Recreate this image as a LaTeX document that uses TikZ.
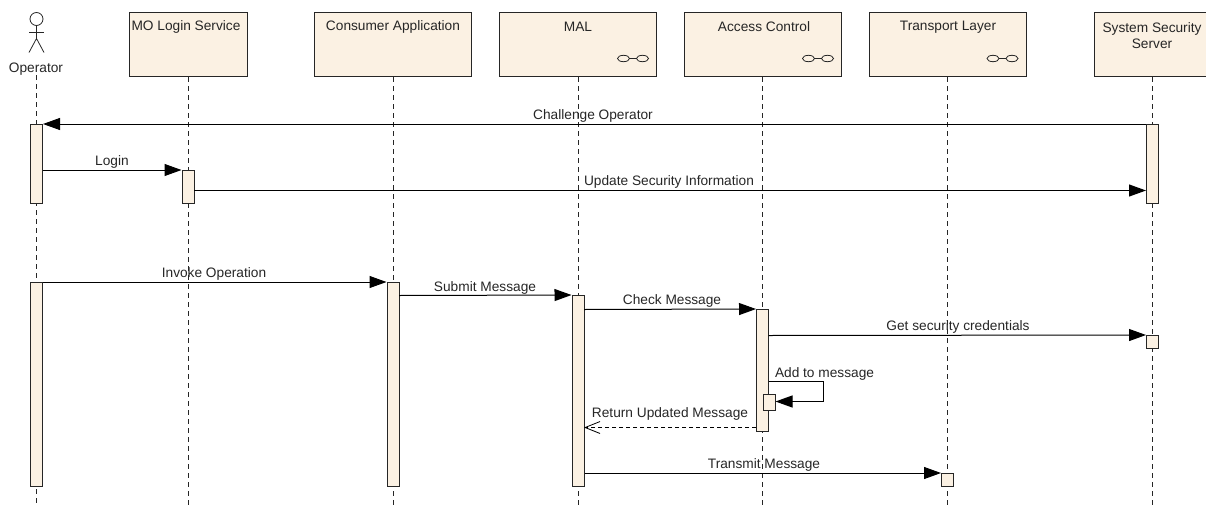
\documentclass[tikz,border=0pt]{standalone}
\usepackage{fontspec}
\setmainfont{Liberation Sans}
\usetikzlibrary{arrows.meta}
\definecolor{boxfill}{HTML}{FBF1E3}
\tikzset{
  lifebox/.style={draw=black!85, fill=boxfill, line width=1pt, minimum height=64pt, inner sep=0pt},
  boxtext/.style={font=\fontsize{13.7}{15.5}\selectfont, align=center, inner sep=0pt, text=black!85},
  msgtext/.style={font=\fontsize{13.7}{15.5}\selectfont, inner sep=0pt, text=black!85, xshift=1pt},
  lifeline/.style={draw=black!85, line width=1pt, dash pattern=on 5pt off 4pt},
  activebar/.style={draw=black!85, fill=boxfill, line width=1pt, minimum width=12pt, inner sep=0pt},
  msg/.style={draw=black, line width=1pt, -{Triangle[length=17pt,width=12pt]}},
  msgback/.style={draw=black, line width=1pt, dash pattern=on 4pt off 3pt, -{Straight Barb[length=15pt,width=12pt,line width=0.8pt]}},
  rings/.pic={
    \draw[line width=0.8pt, draw=black!85] (-9.5,0) ellipse (6pt and 3.2pt);
    \draw[line width=0.8pt, draw=black!85] (9.5,0) ellipse (6pt and 3.2pt);
    \draw[line width=0.8pt, draw=black!85] (-3.5,0) -- (3.5,0);
  }
}

\begin{document}
\begin{tikzpicture}[x=1pt,y=-1pt]
  \useasboundingbox (0,-0.5) rectangle (1206,505.5);

  % Operator actor
  \node[draw=black!85, circle, line width=0.8pt, minimum size=13pt, inner sep=0pt] (head) at (36.5,18.5) {};
  \coordinate (hip) at (36.5,38);
  \coordinate (armL) at (29,32);
  \coordinate (armR) at (44,32);
  \coordinate (legL) at (29,52);
  \coordinate (legR) at (44,52);
  \draw[line width=0.8pt, draw=black!85] (head) -- (hip);
  \draw[line width=0.8pt, draw=black!85] (armL) -- (armR);
  \draw[line width=0.8pt, draw=black!85] (legL) -- (hip) -- (legR);
  \node[boxtext] (operator) at (36,68.5) {Operator};

  % Lifeline boxes
  \node[lifebox, minimum width=118pt] (login) at (188,44) {};
  \node[boxtext] (logintext) at (186,26.5) {MO Login Service};
  \node[lifebox, minimum width=157pt] (consumer) at (393,44) {};
  \node[boxtext] (consumertext) at (393,26.5) {Consumer Application};
  \node[lifebox, minimum width=157pt] (mal) at (578,44) {};
  \node[boxtext] (maltext) at (578,26.5) {MAL};
  \node[lifebox, minimum width=157pt] (access) at (762.5,44) {};
  \node[boxtext] (accesstext) at (764,26.5) {Access Control};
  \node[lifebox, minimum width=157pt] (transport) at (947.5,44) {};
  \node[boxtext] (transporttext) at (948,26.5) {Transport Layer};
  \node[lifebox, minimum width=118pt] (security) at (1153,44) {};
  \node[boxtext] (securitytext) at (1152,35) {System Security\\Server};

  % Interface rings
  \pic at (633,58) {rings};
  \pic at (818,58) {rings};
  \pic at (1002.5,58) {rings};

  % Lifelines
  \coordinate (operatorEnd) at (36.5,506);
  \coordinate (loginEnd) at (188,506);
  \coordinate (consumerEnd) at (393,506);
  \coordinate (malEnd) at (578,506);
  \coordinate (accessEnd) at (762.5,506);
  \coordinate (transportEnd) at (947.5,506);
  \coordinate (securityEnd) at (1152.5,506);
  \draw[lifeline] (operator.south -| operatorEnd) -- (operatorEnd);
  \draw[lifeline] (login.south) -- (loginEnd);
  \draw[lifeline] (consumer.south) -- (consumerEnd);
  \draw[lifeline] (mal.south) -- (malEnd);
  \draw[lifeline] (access.south) -- (accessEnd);
  \draw[lifeline] (transport.south) -- (transportEnd);
  \draw[lifeline] (security.south -| securityEnd) -- (securityEnd);

  % Activation bars
  \node[activebar, minimum height=79pt] (opbarA) at (36.5,163.5) {};
  \node[activebar, minimum height=33pt] (loginbar) at (188,186.5) {};
  \node[activebar, minimum height=79pt] (secbarA) at (1152.5,163.5) {};
  \node[activebar, minimum height=204pt] (opbarB) at (36.5,384) {};
  \node[activebar, minimum height=204pt] (consumerbar) at (393,384) {};
  \node[activebar, minimum height=191pt] (malbar) at (578,390.5) {};
  \node[activebar, minimum height=122pt] (accessbar) at (762.5,370) {};
  \node[activebar, minimum height=16pt] (selfbar) at (769,402) {};
  \node[activebar, minimum height=13pt] (secbarB) at (1152.5,341.5) {};
  \node[activebar, minimum height=13pt] (transportbar) at (947.5,479.5) {};

  % Messages
  \draw[msg] (secbarA.north west) -- (opbarA.north east);
  \node[msgtext] (challenge) at (592,115) {Challenge Operator};

  \draw[msg] (opbarA.east |- loginbar.north) -- (loginbar.north west);
  \node[msgtext] (logintxt) at (111,161.5) {Login};

  \coordinate (updateStart) at (194,190);
  \draw[msg] (updateStart) -- (secbarA.west |- updateStart);
  \node[msgtext] (update) at (668,181) {Update Security Information};

  \draw[msg] (opbarB.north east) -- (consumerbar.north west);
  \node[msgtext] (invoke) at (213,273) {Invoke Operation};

  \coordinate (submitStart) at (399,295);
  \draw[msg] (submitStart) -- (malbar.north west);
  \node[msgtext] (submit) at (484,287) {Submit Message};

  \coordinate (checkStart) at (584,309);
  \draw[msg] (checkStart) -- (accessbar.north west);
  \node[msgtext] (check) at (671,300.5) {Check Message};

  \coordinate (getStart) at (768.5,335);
  \draw[msg] (getStart) -- (secbarB.north west);
  \node[msgtext] (getcred) at (957,326.5) {Get security credentials};

  \coordinate (selfStart) at (768.5,381);
  \coordinate (selfCornerA) at (823,381);
  \coordinate (selfCornerB) at (823,401);
  \draw[msg] (selfStart) -- (selfCornerA) -- (selfCornerB) -- (selfbar.east |- selfCornerB);
  \node[msgtext] (addto) at (823.5,373.5) {Add to message};

  \coordinate (returnEnd) at (584,427);
  \draw[msgback] (accessbar.west |- returnEnd) -- (returnEnd);
  \node[msgtext] (return) at (669,413.5) {Return Updated Message};

  \draw[msg] (malbar.east |- transportbar.north) -- (transportbar.north west);
  \node[msgtext] (transmit) at (763,464.5) {Transmit Message};
\end{tikzpicture}
\end{document}
